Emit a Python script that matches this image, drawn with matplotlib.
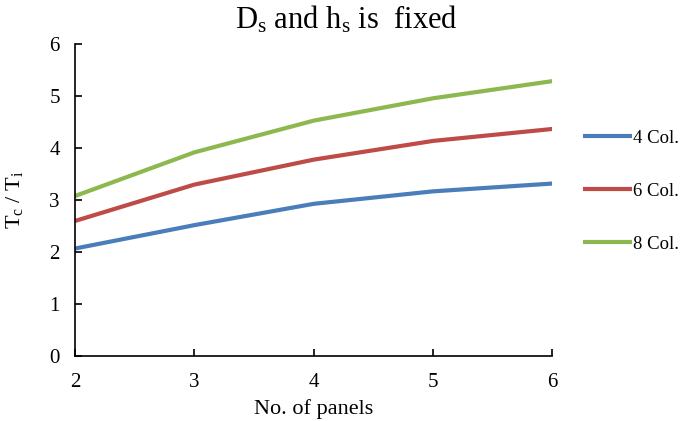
import matplotlib
matplotlib.use('Agg')
import matplotlib.pyplot as plt

# data
panels = [2, 3, 4, 5, 6]
col4 = [2.07, 2.52, 2.93, 3.17, 3.32]
col6 = [2.60, 3.30, 3.78, 4.14, 4.37]
col8 = [3.08, 3.92, 4.53, 4.96, 5.29]
series_names = ['4 Col.', '6 Col.', '8 Col.']
series_colors = ['#4A7EBB', '#BE4B48', '#8DB84F']

plt.rcParams['font.family'] = ['Liberation Serif', 'DejaVu Serif']
plt.rcParams['mathtext.fontset'] = 'custom'
plt.rcParams['mathtext.rm'] = 'Liberation Serif'
plt.rcParams['mathtext.it'] = 'Liberation Serif:italic'

fig = plt.figure(figsize=(6.85, 4.21), dpi=100)
ax = fig.add_axes([0.1095, 0.154, 0.697, 0.741])

for vals, name, col in zip([col4, col6, col8], series_names, series_colors):
    ax.plot(panels, vals, color=col, lw=3.0, label=name, solid_capstyle='butt')

ax.set_xlim(2, 6)
ax.set_ylim(0, 6)
ax.set_xticks(panels)
ax.set_yticks(range(0, 7))
for s in ['top', 'right']:
    ax.spines[s].set_visible(False)
for s in ['left', 'bottom']:
    ax.spines[s].set_linewidth(1.2)
ax.tick_params(direction='in', length=5, width=1.2, labelsize=15, pad=11)
ax.tick_params(axis='x', pad=12)

ax.set_xlabel('No. of panels', fontsize=16, labelpad=5)
ax.set_ylabel(r'T$_\mathregular{c}$ / T$_\mathregular{i}$', fontsize=16)
ax.yaxis.set_label_coords(-0.105, 0.5)
fig.text(0.505, 0.952, r'D$_\mathregular{s}$ and h$_\mathregular{s}$ is  fixed',
         ha='center', va='center', fontsize=22)

fig.legend(loc='center left', bbox_to_anchor=(0.832, 0.546), frameon=False,
           fontsize=13.5, handlelength=2.6, handletextpad=0.05,
           labelspacing=1.92, borderpad=0.2)

fig.savefig('out.png', dpi=100)
